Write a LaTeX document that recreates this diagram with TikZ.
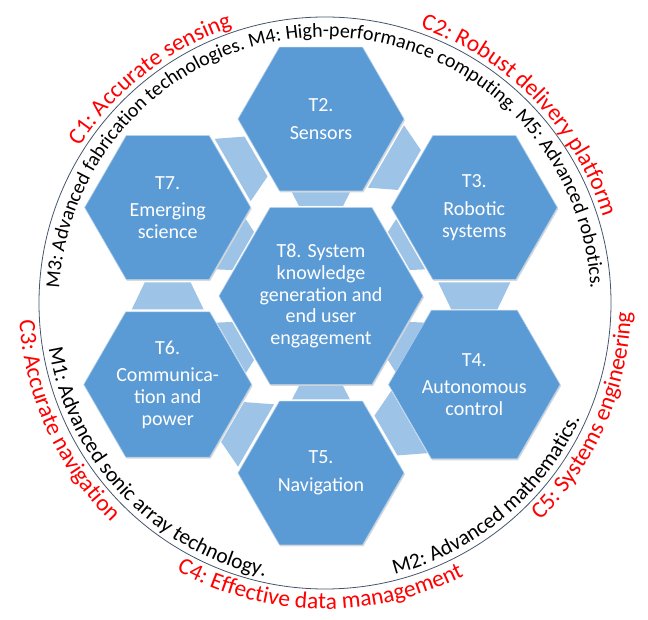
\documentclass[tikz,border=0pt]{standalone}
\usepackage{fontspec}
\setmainfont{Carlito}
\usetikzlibrary{shapes.geometric,positioning,calc,decorations.text,shadows,backgrounds}

\definecolor{hexblue}{HTML}{5B9BD5}
\definecolor{bandblue}{HTML}{9DC3E6}
\definecolor{ringgray}{HTML}{44546A}
\newcommand{\challengefont}{\color{red}\fontsize{23.5}{28}\selectfont}
\newcommand{\methodfont}{\color{black}\fontsize{20}{24}\selectfont}
\newcommand{\methodfontlow}{\color{black}\fontsize{21.5}{24}\selectfont}

\begin{document}
\begin{tikzpicture}[x=1pt,y=1pt,on grid,node distance=177pt,
  hex/.style={regular polygon,regular polygon sides=6,minimum size=166pt,inner sep=0pt,
    fill=hexblue,draw=white!50!hexblue,line width=.6pt,text=white,align=center,
    font=\fontsize{20}{21.7}\selectfont,
    drop shadow={shadow xshift=1pt,shadow yshift=-1.5pt,opacity=.3}},
  band/.style={fill=bandblue},
  ring/.style={draw=ringgray,line width=.8pt},
  arctext/.style={decorate,decoration={text along path,text align=center,text={#1}}}]
  \useasboundingbox (0,0) rectangle (648,619);

  % hexagon cluster
  \node[hex,minimum size=204pt] (t8) at (321,323) {T8. System\\knowledge\\generation and\\end user\\engagement};
  \node[hex] (t2) [above=of t8] {T2.\\[6pt]Sensors};
  \node[hex] (t3) [above right=88.5pt and 153.3pt of t8] {T3.\\[6pt]Robotic\\systems};
  \node[hex] (t4) [below right=88.5pt and 153.3pt of t8] {T4.\\[6pt]Autonomous\\control};
  \node[hex] (t5) [below=of t8] {T5.\\[6pt]Navigation};
  \node[hex] (t6) [below left=88.5pt and 153.3pt of t8] {T6.\\[6pt]Communica-\\tion and\\power};
  \node[hex] (t7) [above left=88.5pt and 153.3pt of t8] {T7.\\[6pt]Emerging\\science};

  % light bands in the gaps
  \begin{scope}[on background layer]
    \fill[band,shift={(t2.center)},rotate=210] (75,-23) -- (75,23) -- (102,36) -- (102,-36) -- cycle;
    \fill[band,shift={(t7.center)},rotate=270] (75,-23) -- (75,23) -- (102,36) -- (102,-36) -- cycle;
    \fill[band,shift={(t6.center)},rotate=330] (75,-23) -- (75,23) -- (102,36) -- (102,-36) -- cycle;
    \fill[band,shift={(t5.center)},rotate=30] (75,-23) -- (75,23) -- (102,36) -- (102,-36) -- cycle;
    \fill[band,shift={(t4.center)},rotate=90] (75,-23) -- (75,23) -- (102,36) -- (102,-36) -- cycle;
    \fill[band,shift={(t3.center)},rotate=150] (75,-23) -- (75,23) -- (102,36) -- (102,-36) -- cycle;
    \fill[band,shift={(t8.center)},rotate=90] (90,-22) -- (90,22) -- (103.5,29) -- (103.5,-29) -- cycle;
    \fill[band,shift={(t8.center)},rotate=30] (90,-22) -- (90,22) -- (103.5,29) -- (103.5,-29) -- cycle;
    \fill[band,shift={(t8.center)},rotate=-30] (90,-22) -- (90,22) -- (103.5,29) -- (103.5,-29) -- cycle;
    \fill[band,shift={(t8.center)},rotate=-90] (90,-22) -- (90,22) -- (103.5,29) -- (103.5,-29) -- cycle;
    \fill[band,shift={(t8.center)},rotate=-150] (90,-22) -- (90,22) -- (103.5,29) -- (103.5,-29) -- cycle;
    \fill[band,shift={(t8.center)},rotate=150] (90,-22) -- (90,22) -- (103.5,29) -- (103.5,-29) -- cycle;
  \end{scope}

  % ring with methods and challenges
  \coordinate (o) at (325,316);
  \draw[ring] (o) circle[radius=286];

  \path[arctext={|\methodfont|M3: Advanced fabrication technologies. M4: High-performance computing. M5: Advanced robotics.}]
    ($(o)+(186:266)$) arc[start angle=186,end angle=-6,radius=266];
  \path[arctext={|\methodfontlow|M1: Advanced sonic array technology.}]
    ($(o)+(185:280)$) arc[start angle=185,end angle=262,radius=280];
  \path[arctext={|\methodfontlow|M2: Advanced mathematics.}]
    ($(o)+(278:280)$) arc[start angle=278,end angle=342,radius=280];

  \path[arctext={|\challengefont|C1: Accurate sensing}]
    ($(o)+(155:291)$) arc[start angle=155,end angle=101,radius=291];
  \path[arctext={|\challengefont|C2: Robust delivery platform}]
    ($(o)+(80:291)$) arc[start angle=80,end angle=8,radius=291];
  \path[arctext={|\challengefont|C3: Accurate navigation}]
    ($(o)+(175:306)$) arc[start angle=175,end angle=234,radius=306];
  \path[arctext={|\challengefont|C4: Effective data management}]
    ($(o)+(233:306)$) arc[start angle=233,end angle=305,radius=306];
  \path[arctext={|\challengefont|C5: Systems engineering}]
    ($(o)+(306:306)$) arc[start angle=306,end angle=367,radius=306];
\end{tikzpicture}
\end{document}
